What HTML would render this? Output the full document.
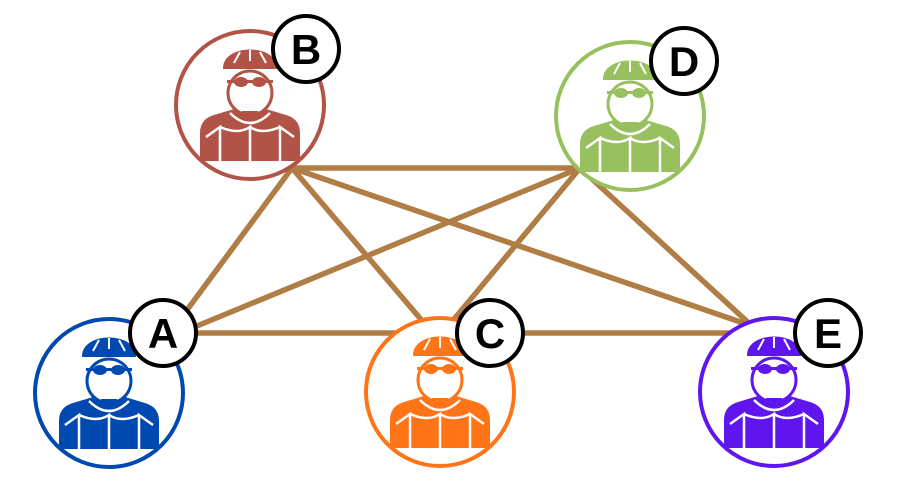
<!DOCTYPE html>
<html><head><meta charset="utf-8"><style>
html,body{margin:0;padding:0;background:#fff;}
svg{display:block}
text{font-family:"Liberation Sans",sans-serif;font-weight:bold;}
</style></head><body>
<svg width="900" height="487" viewBox="0 0 900 487" xmlns="http://www.w3.org/2000/svg">
<defs>
<g id="p">
  <circle r="74" fill="#fff" stroke="currentColor" stroke-width="4"/>
  <path d="M-50 56 L-50 28 Q-50 14 -36 10 L-16 4 L16 4 L36 10 Q50 14 50 28 L50 56 Z" fill="currentColor"/>
  <path d="M-20 8 Q0 28 20 8 M-44 32 L-30 22 L-30 56 M44 32 L30 22 L30 56 M-30 22 Q-12 30 0 22 L0 56 M0 22 Q12 30 30 22" fill="none" stroke="#fff" stroke-width="2.5"/>
  <ellipse cx="0" cy="-12" rx="22" ry="22" fill="#fff" stroke="currentColor" stroke-width="3"/>
  <rect x="-8" y="6" width="16" height="8" fill="currentColor"/>
  <path d="M-27 -36 C-28 -62 28 -62 27 -36 Z" fill="currentColor"/>
  <path d="M-16 -42 L-10 -53 M0 -44 L0 -55 M16 -42 L10 -53" stroke="#fff" stroke-width="2"/>
  <rect x="-23" y="-25" width="46" height="3" fill="currentColor"/>
  <ellipse cx="-9" cy="-23" rx="7" ry="5" fill="currentColor"/>
  <ellipse cx="9" cy="-23" rx="7" ry="5" fill="currentColor"/>
</g>
</defs>
<g stroke="#b07d45" stroke-width="5.5" stroke-linecap="round">
  <line x1="292" y1="168" x2="580" y2="168"/>
  <line x1="292" y1="168" x2="170" y2="333"/>
  <line x1="292" y1="168" x2="430" y2="330"/>
  <line x1="292" y1="168" x2="752" y2="326"/>
  <line x1="580" y1="168" x2="180" y2="333"/>
  <line x1="580" y1="168" x2="445" y2="330"/>
  <line x1="580" y1="168" x2="752" y2="326"/>
  <line x1="170" y1="333" x2="440" y2="333"/>
  <line x1="440" y1="333" x2="760" y2="333"/>
</g>
<g color="#b15447" transform="translate(250,105)"><use href="#p"/></g>
<g color="#98c05e" transform="translate(630,116)"><use href="#p"/></g>
<g color="#0049b1" transform="translate(109,393)"><use href="#p"/></g>
<g color="#ff7417" transform="translate(440,392)"><use href="#p"/></g>
<g color="#5f15ee" transform="translate(774,392)"><use href="#p"/></g>
<g fill="#fff" stroke="#000" stroke-width="4">
  <circle cx="306" cy="49" r="33"/>
  <circle cx="684" cy="61" r="33"/>
  <circle cx="163" cy="333" r="33"/>
  <circle cx="490" cy="333" r="33"/>
  <circle cx="828" cy="333" r="33"/>
</g>
<g font-size="42" text-anchor="middle" fill="#000">
  <text x="306" y="64">B</text>
  <text x="684" y="76">D</text>
  <text x="163" y="348">A</text>
  <text x="490" y="348">C</text>
  <text x="828" y="348">E</text>
</g>
</svg>
</body></html>
